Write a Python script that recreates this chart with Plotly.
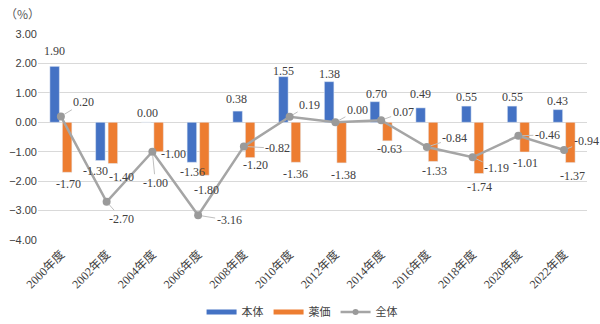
import plotly.graph_objects as go

categories = ["2000年度", "2002年度", "2004年度", "2006年度", "2008年度", "2010年度",
              "2012年度", "2014年度", "2016年度", "2018年度", "2020年度", "2022年度"]
honntai = [1.90, -1.30, 0.00, -1.36, 0.38, 1.55, 1.38, 0.70, 0.49, 0.55, 0.55, 0.43]
yakka = [-1.70, -1.40, -1.00, -1.80, -1.20, -1.36, -1.38, -0.63, -1.33, -1.74, -1.01, -1.37]
zentai = [0.20, -2.70, -1.00, -3.16, -0.82, 0.19, 0.00, 0.07, -0.84, -1.19, -0.46, -0.94]
y_ticks = [3, 2, 1, 0, -1, -2, -3, -4]

BLUE = "#4472C4"
ORANGE = "#ED7D31"
GREY = "#A5A5A5"
LABEL = "#404040"
SERIF = "Liberation Serif, Noto Sans CJK JP, serif"
SANS = "Liberation Sans, Noto Sans CJK JP, sans-serif"
CJK = "Noto Sans CJK JP, sans-serif"

# label placement offsets in pixels (dx, dy; dy positive = down), styling only
blue_off = [(0, -15), (-5, 10), (1, -9), (1, 10), (-1, -12), (0, -6),
            (0, -8), (2, -8), (0, -14), (0, -9), (0, -9), (0, -9)]
orange_off = [(1, 12), (9, 14), (15, 2), (2, 15), (5, 7), (0, 12),
              (2, 12), (2, 8), (1, 10), (1, 14), (1, 11), (2, 13)]
line_off = [(23, -14), (15, 17), (3, 31), (31, 5), (34, 2), (20, -12),
            (22, -12), (22, -8), (28, -9), (24, 11), (29, -1), (22, -9)]
BAR_SHIFT = 6.25

fig = go.Figure()
fig.add_trace(go.Bar(x=categories, y=honntai, name="本体", marker_color=BLUE,
                     showlegend=False))
fig.add_trace(go.Bar(x=categories, y=yakka, name="薬価", marker_color=ORANGE,
                     showlegend=False))
fig.add_trace(go.Scatter(x=categories, y=zentai, name="全体", mode="lines+markers",
                         line=dict(color=GREY, width=2.5),
                         marker=dict(color="#9A9A9A", size=8), showlegend=False))
# legend-only entries
fig.add_trace(go.Scatter(x=[None], y=[None], mode="lines", name="本体",
                         line=dict(color=BLUE, width=5)))
fig.add_trace(go.Scatter(x=[None], y=[None], mode="lines", name="薬価",
                         line=dict(color=ORANGE, width=5)))
fig.add_trace(go.Scatter(x=[None], y=[None], mode="lines+markers", name="全体",
                         line=dict(color=GREY, width=2.5),
                         marker=dict(color="#9A9A9A", size=6)))

ann = []
for c, v, (dx, dy) in zip(categories, honntai, blue_off):
    ann.append(dict(x=c, y=v, text=f"{v:.2f}", showarrow=False,
                    xshift=-BAR_SHIFT + dx, yshift=-dy,
                    font=dict(family=SERIF, size=12, color=LABEL)))
for c, v, (dx, dy) in zip(categories, yakka, orange_off):
    ann.append(dict(x=c, y=v, text=f"{v:.2f}", showarrow=False,
                    xshift=BAR_SHIFT + dx, yshift=-dy,
                    font=dict(family=SERIF, size=12, color=LABEL)))
for c, v, (dx, dy) in zip(categories, zentai, line_off):
    ann.append(dict(x=c, y=v, text=f"{v:.2f}", showarrow=True, arrowhead=0,
                    arrowwidth=1, arrowcolor="#BFBFBF", ax=dx, ay=dy,
                    axref="pixel", ayref="pixel", standoff=4,
                    font=dict(family=SERIF, size=12, color=LABEL)))
ann.append(dict(xref="paper", yref="paper", x=-0.029, y=1.0, yshift=21,
                xanchor="center", yanchor="middle",
                text="（%）", showarrow=False,
                font=dict(family=CJK, size=12, color="#595959")))

fig.update_layout(
    width=600, height=324,
    margin=dict(l=38, r=13, t=34, b=84, autoexpand=False),
    paper_bgcolor="white", plot_bgcolor="white",
    barmode="group", bargap=0.454, bargroupgap=0.24,
    annotations=ann,
    legend=dict(orientation="h", x=0.481, xanchor="center", y=-0.35,
                yanchor="middle", font=dict(family=CJK, size=11, color="#404040"),
                itemwidth=30, tracegroupgap=0),
    xaxis=dict(type="category", range=[-0.5, len(categories) - 0.5],
               tickangle=-45, showgrid=False, showline=False,
               ticks="", automargin=False, ticklabelstandoff=4,
               tickfont=dict(family=SERIF, size=12, color="#404040")),
    yaxis=dict(range=[-4, 3], tickvals=y_ticks, tickformat=".2f",
               showgrid=True, gridcolor="#D9D9D9", gridwidth=1,
               zeroline=True, zerolinecolor="#D9D9D9", zerolinewidth=1,
               showline=False, ticks="", automargin=False,
               tickfont=dict(family=SANS, size=11, color="#404040")),
)

fig.write_html("out.html")
